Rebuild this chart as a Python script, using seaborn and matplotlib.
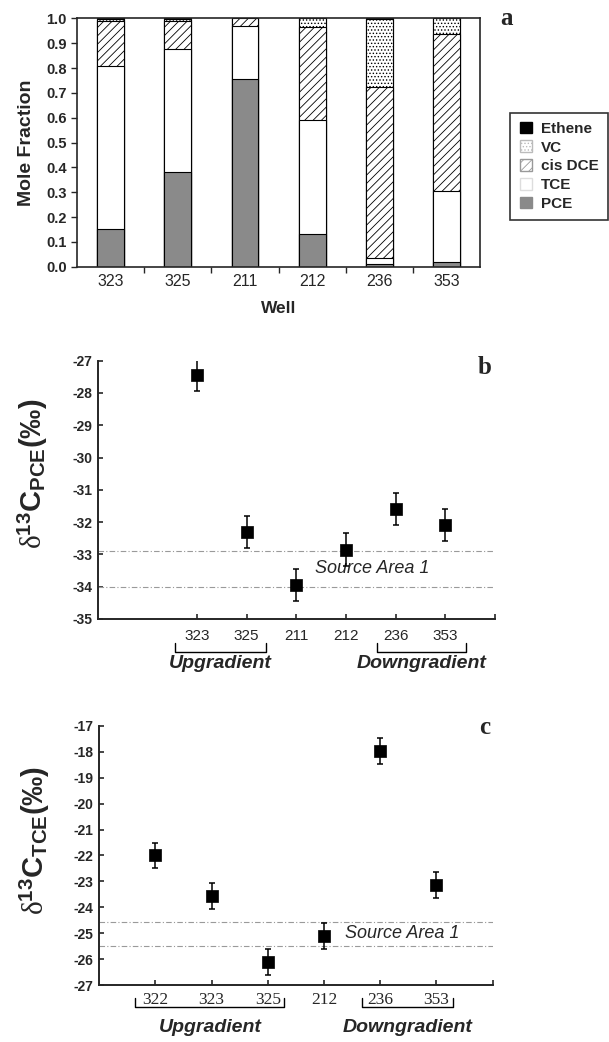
import numpy as np
import pandas as pd
import matplotlib
matplotlib.use("Agg")
import matplotlib.pyplot as plt
from matplotlib.patches import Patch
import matplotlib.transforms as mtransforms
import seaborn as sns

# ---- data: panel a (mole fractions, stacked bottom -> top) ----
wells_a = ['323', '325', '211', '212', '236', '353']
pce = [0.15, 0.38, 0.755, 0.13, 0.01, 0.02]
tce = [0.66, 0.495, 0.215, 0.46, 0.025, 0.285]
dce = [0.18, 0.115, 0.03, 0.375, 0.69, 0.63]
vc = [0.007, 0.007, 0.0, 0.035, 0.272, 0.065]
eth = [0.003, 0.003, 0.0, 0.0, 0.003, 0.0]

# ---- data: panel b (d13C PCE) ----
wells_b = ['323', '325', '211', '212', '236', '353']
d13c_pce = [-27.45, -32.3, -33.95, -32.85, -31.6, -32.1]
err_pce = [0.5, 0.5, 0.5, 0.5, 0.5, 0.5]
src_pce = [-32.9, -34.0]

# ---- data: panel c (d13C TCE) ----
wells_c = ['322', '323', '325', '212', '236', '353']
d13c_tce = [-22.0, -23.55, -26.1, -25.1, -17.95, -23.15]
err_tce = [0.5, 0.5, 0.5, 0.5, 0.5, 0.5]
src_tce = [-24.55, -25.5]

sns.set_style('ticks')
plt.rcParams['font.family'] = ['Liberation Sans', 'DejaVu Sans']
plt.rcParams['hatch.linewidth'] = 0.6
plt.rcParams['mathtext.fontset'] = 'custom'
plt.rcParams['mathtext.rm'] = 'Liberation Serif'
plt.rcParams['mathtext.bf'] = 'Liberation Sans:bold'
plt.rcParams['mathtext.it'] = 'Liberation Serif:italic'

fig = plt.figure(figsize=(6.09, 10.42), dpi=100)

# ================= panel a =================
ax = fig.add_axes([0.1264, 0.744, 0.662, 0.2384])
df = pd.DataFrame({'well': wells_a, 'PCE': pce, 'TCE': tce, 'DCE': dce,
                   'VC': vc, 'Ethene': eth})
df['c_pce'] = df['PCE']
df['c_tce'] = df['c_pce'] + df['TCE']
df['c_dce'] = df['c_tce'] + df['DCE']
df['c_vc'] = df['c_dce'] + df['VC']
df['c_eth'] = df['c_vc'] + df['Ethene']

layers = [('c_eth', 'black', None),
          ('c_vc', 'white', '.....'),
          ('c_dce', 'white', '////'),
          ('c_tce', 'white', None),
          ('c_pce', '#8a8a8a', None)]
for col, fc, hatch in layers:
    sns.barplot(data=df, x='well', y=col, order=wells_a, color=fc,
                saturation=1, width=0.4, edgecolor='black', linewidth=0.8,
                hatch=hatch, errorbar=None, ax=ax)

ax.set_xlim(-0.5, 5.5)
ax.set_ylim(0, 1.0)
ax.set_yticks(np.arange(0, 1.01, 0.1))
ax.set_yticklabels([f'{v:.1f}' for v in np.arange(0, 1.01, 0.1)],
                   fontweight='bold', fontsize=10.5)
ax.set_xticks(range(6))
ax.set_xticklabels(wells_a, fontsize=11.5)
ax.set_xticks(np.arange(0.5, 5, 1), minor=True)
ax.tick_params(axis='x', which='major', length=0, pad=5)
ax.tick_params(axis='x', which='minor', length=4, width=1, direction='out')
ax.tick_params(axis='y', length=4, width=1, direction='out')
for s in ax.spines.values():
    s.set_linewidth(1.2)
ax.set_xlabel('Well', fontweight='bold', fontsize=12.5, labelpad=9)
ax.set_ylabel('Mole Fraction', fontweight='bold', fontsize=14, labelpad=8)

handles = [Patch(facecolor='black', edgecolor='black', label='Ethene'),
           Patch(facecolor='white', edgecolor='#bbbbbb', hatch='.....', label='VC'),
           Patch(facecolor='white', edgecolor='#999999', hatch='////', label='cis DCE'),
           Patch(facecolor='white', edgecolor='#dddddd', label='TCE'),
           Patch(facecolor='#8a8a8a', edgecolor='#8a8a8a', label='PCE')]
leg = fig.legend(handles=handles, loc='upper left', bbox_to_anchor=(0.838, 0.892),
                 borderaxespad=0, frameon=True, fancybox=False, edgecolor='black',
                 handlelength=0.8, handleheight=0.8, handletextpad=0.6,
                 labelspacing=0.3, borderpad=0.6, prop={'weight': 'bold', 'size': 11})
leg.get_frame().set_linewidth(1.2)
fig.text(0.8325, 0.9827, 'a', family='Liberation Serif', fontweight='bold',
         fontsize=18, ha='center', va='center')


def delta_panel(ax, wells, vals, errs, src, xmax, ymin, ymax, sub, serif_ticks,
                up_span, down_span, up_c, down_c, br_y, br_top, txt_y, lbl_pad):
    x = np.arange(len(wells)) + (xmax - len(wells))
    ax.errorbar(x, vals, yerr=errs, fmt='none', ecolor='black',
                elinewidth=1.1, capsize=2.5, capthick=1.1, zorder=3)
    sns.scatterplot(x=x, y=vals, marker='s', s=64, color='black',
                    edgecolor='black', linewidth=0.5, zorder=4, ax=ax)
    for yv in src:
        ax.axhline(yv, color='#9a9a9a', lw=0.8, ls=(0, (5, 2, 1, 2)), zorder=1)
    ax.set_xlim(0, xmax)
    ax.set_ylim(ymin, ymax)
    ax.set_yticks(np.arange(ymin, ymax + 1, 1))
    ax.set_yticklabels([str(int(v)) for v in np.arange(ymin, ymax + 1, 1)],
                       fontweight='bold', fontsize=10)
    ticks = list(range(xmax - len(wells), xmax + 1))
    labels = [''] * (len(ticks) - len(wells) - 1) + list(wells) + ['']
    ax.set_xticks(ticks)
    if serif_ticks:
        ax.set_xticklabels(labels, fontsize=12.5, family='Liberation Serif')
    else:
        ax.set_xticklabels(labels, fontsize=11)
    ax.tick_params(axis='x', direction='in', length=3.5, width=1.2, pad=lbl_pad)
    ax.tick_params(axis='y', direction='in', length=3.5, width=1.2, pad=4)
    sns.despine(ax=ax)
    for s in ['left', 'bottom']:
        ax.spines[s].set_linewidth(1.4)
    ax.set_ylabel(r'$\mathrm{\delta}^{\mathbf{13}}\mathbf{C}_{\mathbf{' + sub
                  + r'}}\mathbf{(‰)}$', fontsize=21)
    ax.yaxis.set_label_coords(-0.12, 0.56)
    trans = mtransforms.blended_transform_factory(ax.transData, ax.transAxes)
    for (x0, x1) in (up_span, down_span):
        ax.plot([x0, x0, x1, x1], [br_top, br_y, br_y, br_top], color='black',
                lw=1.0, transform=trans, clip_on=False)
    ax.text(up_c, txt_y, 'Upgradient', transform=trans, ha='center', va='center',
            fontsize=14, fontweight='bold', style='italic')
    ax.text(down_c, txt_y, 'Downgradient', transform=trans, ha='center',
            va='center', fontsize=14, fontweight='bold', style='italic')
    ax.text(4.37, np.mean(src), 'Source Area 1', ha='left', va='center',
            fontsize=13, style='italic', zorder=2)


# ================= panel b =================
axb = fig.add_axes([0.1604, 0.406, 0.6524, 0.2479])
delta_panel(axb, wells_b, d13c_pce, err_pce, src_pce, 8, -35, -27, 'PCE', False,
            (1.56, 3.39), (5.62, 7.42), 2.47, 6.53, -0.127, -0.094, -0.172, 7)
fig.text(0.796, 0.647, 'b', family='Liberation Serif', fontweight='bold',
         fontsize=18, ha='center', va='center')

# ================= panel c =================
axc = fig.add_axes([0.163, 0.0547, 0.646, 0.2486])
delta_panel(axc, wells_c, d13c_tce, err_tce, src_tce, 7, -27, -17, 'TCE', True,
            (0.64, 3.29), (4.67, 6.29), 1.98, 5.48, -0.084, -0.049, -0.163, 5)
fig.text(0.796, 0.3023, 'c', family='Liberation Serif', fontweight='bold',
         fontsize=18, ha='center', va='center')

fig.savefig('out.png', dpi=100)
